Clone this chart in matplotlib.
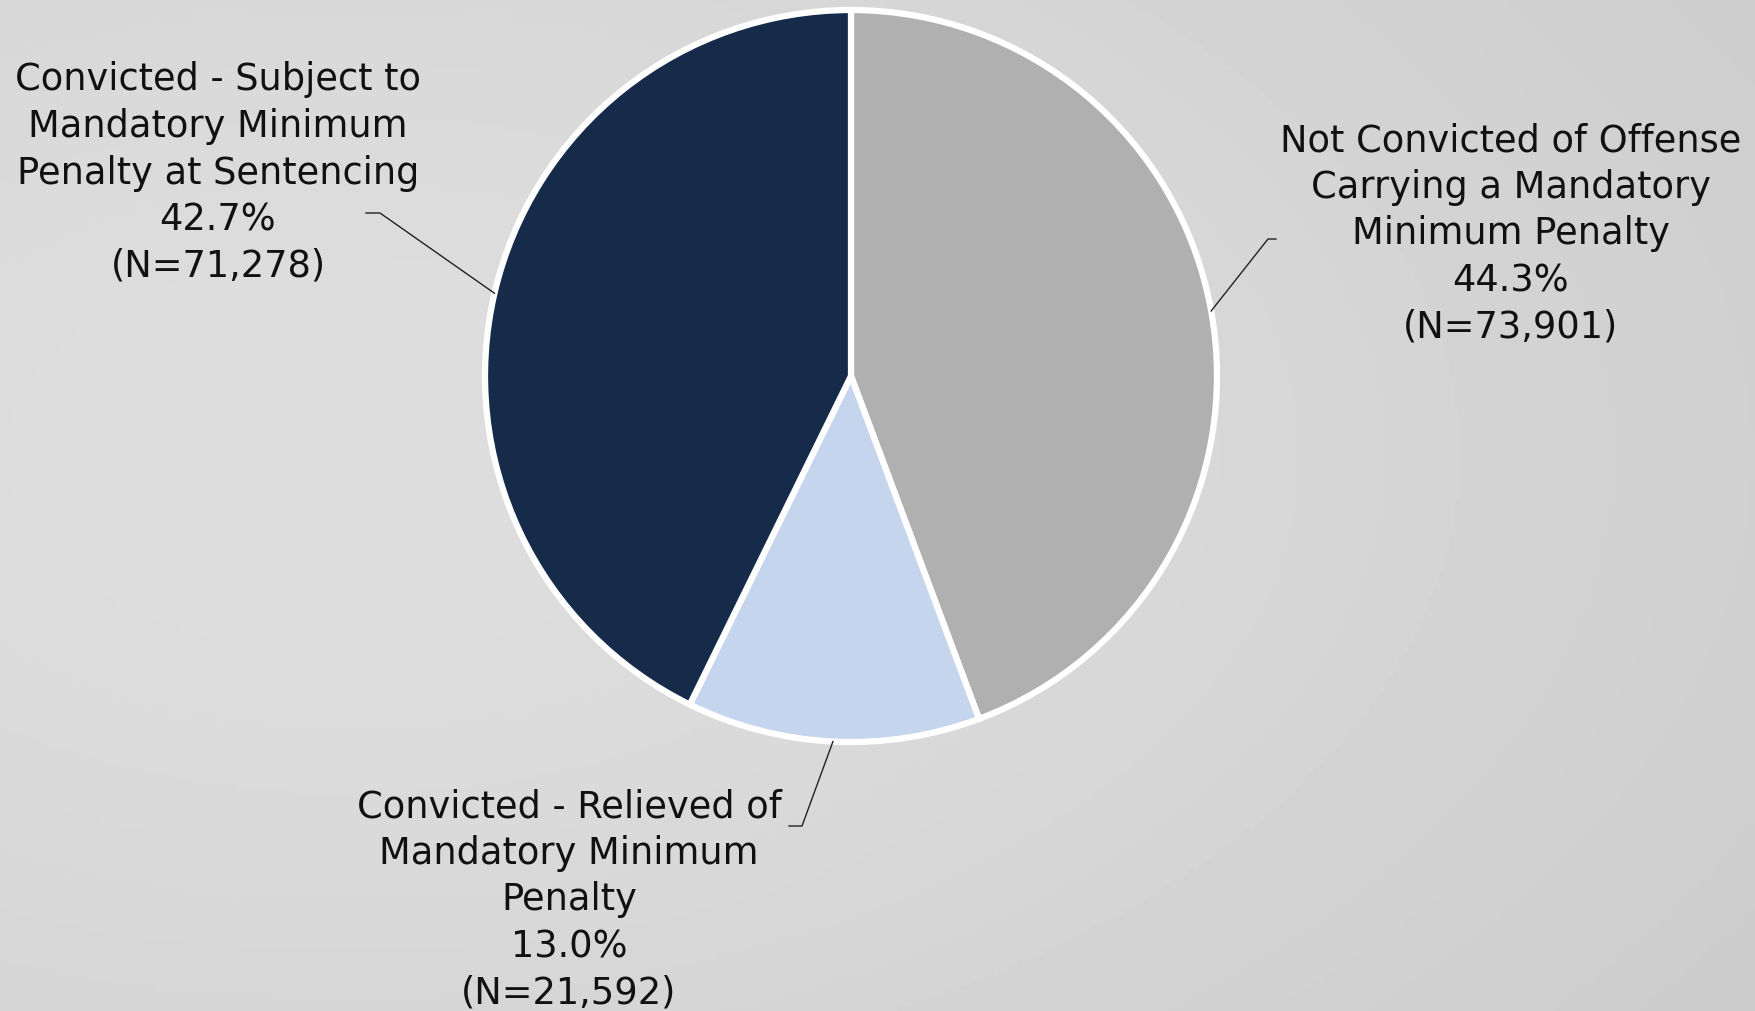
import numpy as np
import matplotlib
matplotlib.use("Agg")
import matplotlib.pyplot as plt

# Data
categories = [
    "Not Convicted of Offense\nCarrying a Mandatory\nMinimum Penalty",
    "Convicted - Relieved of\nMandatory Minimum\nPenalty",
    "Convicted - Subject to\nMandatory Minimum\nPenalty at Sentencing",
]
counts = [73901, 21592, 71278]
percents = [44.3, 13.0, 42.7]
colors = ["#B0B0B0", "#C5D5EE", "#162A4A"]

W, H = 1755, 1011
fig = plt.figure(figsize=(W / 100, H / 100), dpi=100)

# background gradient
bg = fig.add_axes([0, 0, 1, 1])
yy, xx = np.mgrid[0:1:200j, 0:1:350j]
d = np.sqrt((xx - 0.2) ** 2 + (yy - 0.45) ** 2)
g = 0.865 - 0.085 * np.clip(d - 0.15, 0, None) ** 1.3
bg.imshow(g, cmap="gray", vmin=0, vmax=1, extent=[0, 1, 0, 1], aspect="auto", origin="upper")
bg.axis("off")

ax = fig.add_axes([0, 0, 1, 1])

cx, cy, R = 851, H - 376, 366
wedges, _ = ax.pie(counts, colors=colors, startangle=90, counterclock=False,
                   center=(cx, cy), radius=R, frame=True,
                   wedgeprops=dict(edgecolor="white", linewidth=4.5))
ax.set_xlim(0, W)
ax.set_ylim(0, H)
ax.set_aspect("equal")
ax.axis("off")

font = dict(family="DejaVu Sans", fontsize=26.5, color="#111111", ha="center",
            va="center", linespacing=1.33)

# label positions (pixels, top-origin) and leader elbow/end points
label_pos = [(1511, 234), (569, 900), (218, 173)]
elbows = [((1268, 239), (1276, 239)), ((802, 826), (789, 826)), ((380, 213), (366, 213))]

for w, lab, n, p, pos, (e1, e2) in zip(wedges, categories, counts, percents, label_pos, elbows):
    txt = f"{lab}\n{p:.1f}%\n(N={n:,})"
    ax.text(pos[0], H - pos[1], txt, **font)
    ang = np.deg2rad((w.theta1 + w.theta2) / 2)
    ex, ey = cx + R * np.cos(ang), cy + R * np.sin(ang)
    ax.plot([ex, e1[0], e2[0]], [ey, H - e1[1], H - e2[1]], color="#222222", lw=1.0)

fig.savefig("out.png", dpi=100)
